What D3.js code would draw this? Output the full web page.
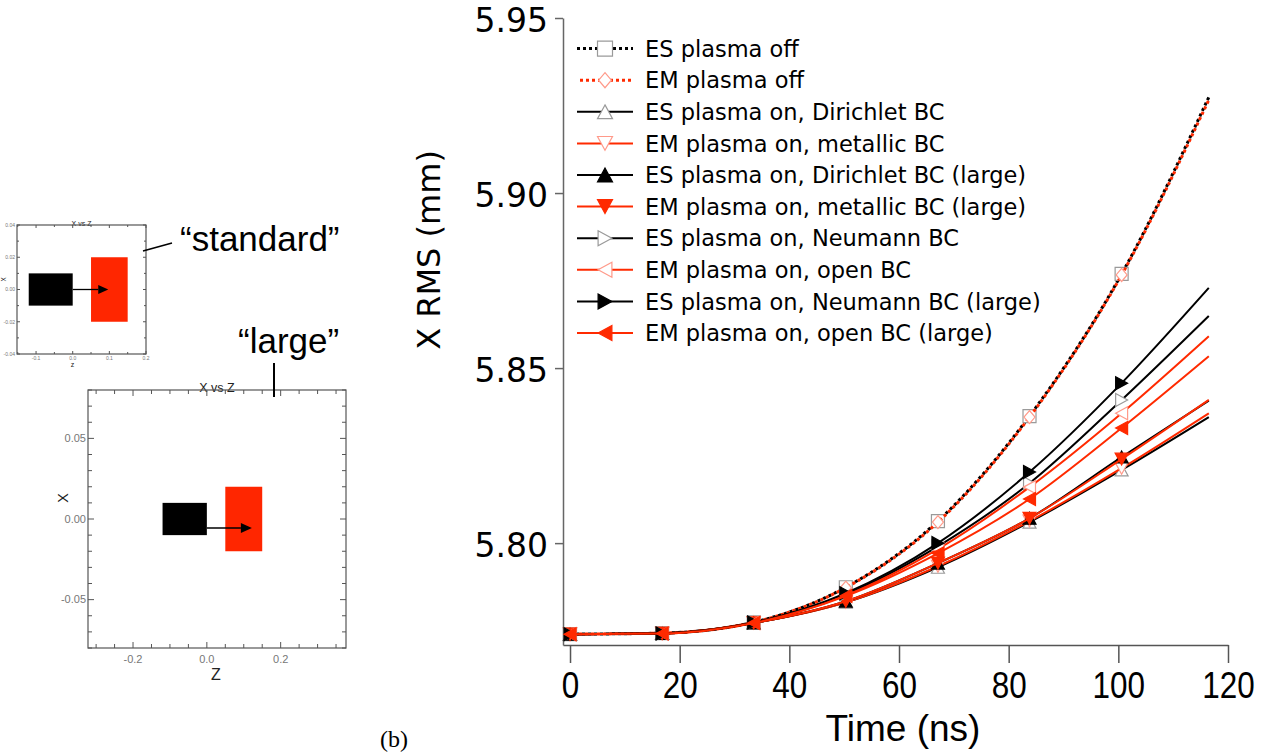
<!DOCTYPE html>
<html>
<head>
<meta charset="utf-8">
<script src="https://cdn.jsdelivr.net/npm/d3@7"></script>
<style>
  body { margin: 0; background: #fff; }
  svg { display: block; }
</style>
</head>
<body>
<svg id="fig" width="1276" height="756"></svg>
<script>
// ---- data: beam X RMS size vs time for the different field solvers ----
const timeNs = [0, 16.8, 33.5, 50.3, 67.1, 83.8, 100.6, 116.5];
const markerCount = 7; // markers on the first seven samples

const esOff            = [5.7740, 5.7743, 5.7774, 5.7874, 5.8063, 5.8363, 5.8769, 5.9274];
const emOff            = [5.7740, 5.7743, 5.7774, 5.7873, 5.8060, 5.8360, 5.8766, 5.9266];
const esDirichlet      = [5.7740, 5.7742, 5.7772, 5.7831, 5.7931, 5.8060, 5.8209, 5.8360];
const emMetallic       = [5.7740, 5.7742, 5.7772, 5.7831, 5.7934, 5.8063, 5.8214, 5.8371];
const esDirichletLarge = [5.7740, 5.7742, 5.7772, 5.7834, 5.7943, 5.8071, 5.8246, 5.8407];
const emMetallicLarge  = [5.7740, 5.7742, 5.7772, 5.7834, 5.7943, 5.8071, 5.8240, 5.8409];
const esNeumann        = [5.7740, 5.7742, 5.7773, 5.7854, 5.7991, 5.8171, 5.8409, 5.8649];
const emOpen           = [5.7740, 5.7742, 5.7773, 5.7851, 5.7983, 5.8160, 5.8371, 5.8591];
const esNeumannLarge   = [5.7740, 5.7742, 5.7773, 5.7857, 5.8000, 5.8203, 5.8457, 5.8729];
const emOpenLarge      = [5.7740, 5.7742, 5.7772, 5.7849, 5.7971, 5.8126, 5.8329, 5.8534];

const seriesNames = [
  "ES plasma off",
  "EM plasma off",
  "ES plasma on, Dirichlet BC",
  "EM plasma on, metallic BC",
  "ES plasma on, Dirichlet BC (large)",
  "EM plasma on, metallic BC (large)",
  "ES plasma on, Neumann BC",
  "EM plasma on, open BC",
  "ES plasma on, Neumann BC (large)",
  "EM plasma on, open BC (large)"
];

const xTicks = [0, 20, 40, 60, 80, 100, 120];
const yTicks = [5.80, 5.85, 5.90, 5.95];

// inset plots (beam/plasma geometry, X vs Z)
const insetTitle = "X vs Z";
const beamBlock   = { z: [-0.12, 0.0], x: [-0.01, 0.01] };
const plasmaBlock = { z: [0.05, 0.15], x: [-0.02, 0.02] };
const smallArrow = { z: [0.0, 0.097], x: 0.0 };
const largeArrow = { z: [0.0, 0.122], x: -0.0056 };
const smallZLabels = [-0.1, 0.0, 0.1, 0.2];
const smallXLabels = [-0.04, -0.02, 0.0, 0.02, 0.04];
const largeZLabels = [-0.2, 0.0, 0.2];
const largeXLabels = [-0.05, 0.0, 0.05];

// ---- styling ----
const RED = "#ff2a00";
const PINK = "#ff9a8a";
const GRAY = "#9a9a9a";
const svg = d3.select("#fig");
svg.append("rect").attr("width", 1276).attr("height", 756).attr("fill", "#fff");

const series = [
  { values: esOff,            color: "#000", dash: "3,3", off: 0, w: 3, shape: "square",  fill: "#fff", mstroke: GRAY },
  { values: emOff,            color: RED,    dash: "3,3", off: 3, w: 3, shape: "diamond", fill: "#fff", mstroke: PINK },
  { values: esDirichlet,      color: "#000", dash: null,  off: 0, w: 2, shape: "up",      fill: "#fff", mstroke: GRAY },
  { values: emMetallic,       color: RED,    dash: null,  off: 0, w: 2, shape: "down",    fill: "#fff", mstroke: PINK },
  { values: esDirichletLarge, color: "#000", dash: null,  off: 0, w: 2, shape: "up",      fill: "#000", mstroke: "#000" },
  { values: emMetallicLarge,  color: RED,    dash: null,  off: 0, w: 2, shape: "down",    fill: RED,    mstroke: RED },
  { values: esNeumann,        color: "#000", dash: null,  off: 0, w: 2, shape: "right",   fill: "#fff", mstroke: GRAY },
  { values: emOpen,           color: RED,    dash: null,  off: 0, w: 2, shape: "left",    fill: "#fff", mstroke: PINK },
  { values: esNeumannLarge,   color: "#000", dash: null,  off: 0, w: 2, shape: "right",   fill: "#000", mstroke: "#000" },
  { values: emOpenLarge,      color: RED,    dash: null,  off: 0, w: 2, shape: "left",    fill: RED,    mstroke: RED }
].map((s, i) => ({ ...s, name: seriesNames[i] }));

function shapePath(shape, s) {
  const h = s / 2, t = s * 0.46;
  switch (shape) {
    case "square":  return `M${-h},${-h}H${h}V${h}H${-h}Z`;
    case "diamond": return `M0,${-h}L${h * 0.85},0L0,${h}L${-h * 0.85},0Z`;
    case "up":      return `M0,${-t}L${h},${t}L${-h},${t}Z`;
    case "down":    return `M0,${t}L${h},${-t}L${-h},${-t}Z`;
    case "right":   return `M${t},0L${-t},${h}L${-t},${-h}Z`;
    case "left":    return `M${-t},0L${t},${h}L${t},${-h}Z`;
  }
}

// ---- main chart ----
const x = d3.scaleLinear().domain([-1.28, 120]).range([563, 1228]);
const y = d3.scaleLinear().domain([5.7709, 5.95]).range([645, 18]);

const xAxis = svg.append("g")
  .attr("transform", "translate(0,645)")
  .call(d3.axisBottom(x).tickValues(xTicks).tickSize(18).tickSizeOuter(0).tickPadding(9).tickFormat(d3.format("d")));
xAxis.select(".domain").attr("stroke", "#555").attr("stroke-width", 1.5);
xAxis.selectAll(".tick line").attr("stroke", "#555").attr("stroke-width", 1.5);
xAxis.selectAll(".tick text")
  .attr("font-family", "'Liberation Sans', Arial, sans-serif")
  .attr("font-size", 37).attr("fill", "#000")
  .attr("transform", "scale(0.85,1)");

const yAxis = svg.append("g")
  .attr("transform", "translate(563,0)")
  .call(d3.axisLeft(y).tickValues(yTicks).tickSize(8).tickSizeOuter(0).tickPadding(7).tickFormat(d3.format(".2f")));
yAxis.select(".domain").attr("stroke", "#666").attr("stroke-width", 1.5);
yAxis.selectAll(".tick line").attr("stroke", "#666").attr("stroke-width", 1.5);
yAxis.selectAll(".tick text")
  .attr("font-family", "'DejaVu Sans', sans-serif")
  .attr("font-size", 33).attr("fill", "#000")
  .attr("dy", "0.4em");

svg.append("text")
  .attr("x", 903).attr("y", 741)
  .attr("text-anchor", "middle")
  .attr("font-family", "'Liberation Sans', Arial, sans-serif")
  .attr("font-size", 37)
  .text("Time (ns)");

svg.append("text")
  .attr("transform", "translate(440,250) rotate(-90)")
  .attr("text-anchor", "middle")
  .attr("font-family", "'DejaVu Sans', sans-serif")
  .attr("font-size", 32)
  .text("X RMS (mm)");

const line = d3.line()
  .x(d => x(d.t))
  .y(d => y(d.v))
  .curve(d3.curveMonotoneX);

const plot = svg.append("g");
series.forEach(s => {
  const pts = timeNs.map((t, i) => ({ t, v: s.values[i] }));
  plot.append("path")
    .attr("d", line(pts))
    .attr("fill", "none")
    .attr("stroke", s.color)
    .attr("stroke-width", s.w)
    .attr("stroke-dasharray", s.dash)
    .attr("stroke-dashoffset", s.off);
  plot.selectAll(null)
    .data(pts.slice(0, markerCount))
    .join("path")
    .attr("transform", d => `translate(${x(d.t)},${y(d.v)})`)
    .attr("d", shapePath(s.shape, 13))
    .attr("fill", s.fill)
    .attr("stroke", s.mstroke)
    .attr("stroke-width", 1.2);
});

// legend
const legend = svg.append("g");
series.forEach((s, i) => {
  const ly = 48.6 + i * 31.6;
  legend.append("line")
    .attr("x1", 577).attr("x2", 633).attr("y1", ly).attr("y2", ly)
    .attr("stroke", s.color).attr("stroke-width", s.w)
    .attr("stroke-dasharray", s.dash).attr("stroke-dashoffset", s.off);
  legend.append("path")
    .attr("transform", `translate(605,${ly})`)
    .attr("d", shapePath(s.shape, 15))
    .attr("fill", s.fill).attr("stroke", s.mstroke).attr("stroke-width", 1.2);
  legend.append("text")
    .attr("x", 645).attr("y", ly).attr("dy", "0.36em")
    .attr("font-family", "'DejaVu Sans', sans-serif")
    .attr("font-size", 22.5)
    .text(s.name);
});

// ---- geometry insets ----
const fmt = p => v => d3.format(p)(v).replace("\u2212", "-");

function steps(lo, hi, step) {
  const out = [];
  for (let k = Math.ceil(lo / step - 1e-9); k * step <= hi + 1e-9; k++) out.push(k * step);
  return out;
}

function drawInset(o) {
  const g = svg.append("g");
  const zs = d3.scaleLinear().domain(o.zDomain).range([o.left, o.right]);
  const xs = d3.scaleLinear().domain(o.xDomain).range([o.bottom, o.top]);

  g.append("text")
    .attr("x", (o.left + o.right) / 2).attr("y", o.titleY)
    .attr("text-anchor", "middle")
    .attr("font-family", "'Liberation Sans', Arial, sans-serif")
    .attr("font-size", o.titleSize).attr("fill", "#222")
    .text(insetTitle);

  g.append("rect")
    .attr("x", zs(beamBlock.z[0])).attr("y", xs(beamBlock.x[1]))
    .attr("width", zs(beamBlock.z[1]) - zs(beamBlock.z[0]))
    .attr("height", xs(beamBlock.x[0]) - xs(beamBlock.x[1]))
    .attr("fill", "#000");
  g.append("rect")
    .attr("x", zs(plasmaBlock.z[0])).attr("y", xs(plasmaBlock.x[1]))
    .attr("width", zs(plasmaBlock.z[1]) - zs(plasmaBlock.z[0]))
    .attr("height", xs(plasmaBlock.x[0]) - xs(plasmaBlock.x[1]))
    .attr("fill", "#ff2600");

  const ax0 = zs(o.arrow.z[0]), ax1 = zs(o.arrow.z[1]), ay = xs(o.arrow.x);
  g.append("line")
    .attr("x1", ax0).attr("x2", ax1 - o.head).attr("y1", ay).attr("y2", ay)
    .attr("stroke", "#000").attr("stroke-width", o.arrowW);
  g.append("path")
    .attr("d", `M${ax1},${ay}L${ax1 - o.head},${ay - o.head * 0.45}L${ax1 - o.head},${ay + o.head * 0.45}Z`)
    .attr("fill", "#000");

  g.append("rect")
    .attr("x", o.left).attr("y", o.top)
    .attr("width", o.right - o.left).attr("height", o.bottom - o.top)
    .attr("fill", "none").attr("stroke", "#555").attr("stroke-width", 1.2);

  const isMajor = (v, step) => Math.abs(v / step - Math.round(v / step)) < 1e-6;
  steps(o.zDomain[0], o.zDomain[1], o.zMinor).forEach(v => {
    const px = zs(v), len = isMajor(v, o.zMajor) ? o.tickMajor : o.tickMinor;
    g.append("line").attr("x1", px).attr("x2", px).attr("y1", o.bottom).attr("y2", o.bottom - len)
      .attr("stroke", "#555").attr("stroke-width", 1);
    g.append("line").attr("x1", px).attr("x2", px).attr("y1", o.top).attr("y2", o.top + len)
      .attr("stroke", "#555").attr("stroke-width", 1);
  });
  steps(o.xDomain[0], o.xDomain[1], o.xMinor).forEach(v => {
    const py = xs(v), len = isMajor(v, o.xMajor) ? o.tickMajor : o.tickMinor;
    g.append("line").attr("x1", o.left).attr("x2", o.left + len).attr("y1", py).attr("y2", py)
      .attr("stroke", "#555").attr("stroke-width", 1);
    g.append("line").attr("x1", o.right).attr("x2", o.right - len).attr("y1", py).attr("y2", py)
      .attr("stroke", "#555").attr("stroke-width", 1);
  });

  g.selectAll(null).data(o.zLabels).join("text")
    .attr("x", d => zs(d)).attr("y", o.bottom + o.zLabelGap)
    .attr("text-anchor", "middle")
    .attr("font-family", "'Liberation Sans', Arial, sans-serif")
    .attr("font-size", o.labelSize).attr("fill", "#777")
    .text(fmt(".1f"));
  g.selectAll(null).data(o.xLabels).join("text")
    .attr("x", o.left - 2).attr("y", d => xs(d)).attr("dy", "0.35em")
    .attr("text-anchor", "end")
    .attr("font-family", "'Liberation Sans', Arial, sans-serif")
    .attr("font-size", o.labelSize).attr("fill", "#777")
    .text(fmt(".2f"));

  g.append("text")
    .attr("x", (o.left + o.right) / 2 + o.zNameDx).attr("y", o.zNameY)
    .attr("text-anchor", "middle")
    .attr("font-family", "'Liberation Sans', Arial, sans-serif")
    .attr("font-size", o.nameSize).attr("fill", "#222")
    .text(o.zName);
  g.append("text")
    .attr("transform", `translate(${o.xNameX},${(o.top + o.bottom) / 2 + o.xNameDy}) rotate(-90)`)
    .attr("text-anchor", "middle").attr("dy", "0.35em")
    .attr("font-family", "'Liberation Sans', Arial, sans-serif")
    .attr("font-size", o.nameSize * 0.9).attr("fill", "#222")
    .text("X");
}

// "standard" domain
drawInset({
  left: 17, right: 146, top: 225, bottom: 354,
  zDomain: [-0.152, 0.2], xDomain: [-0.04, 0.04],
  zMinor: 0.05, zMajor: 0.1, xMinor: 0.01, xMajor: 0.02,
  tickMajor: 3, tickMinor: 2,
  zLabels: smallZLabels, xLabels: smallXLabels,
  labelSize: 5, zLabelGap: 6,
  titleY: 225.5, titleSize: 7,
  zName: "z", zNameY: 367, zNameDx: -9, nameSize: 7,
  xNameX: 4, xNameDy: -10,
  arrow: smallArrow, head: 10, arrowW: 1.3
});

// "large" domain
drawInset({
  left: 88, right: 346, top: 390, bottom: 648,
  zDomain: [-0.322, 0.377], xDomain: [-0.08, 0.08],
  zMinor: 0.05, zMajor: 0.2, xMinor: 0.01, xMajor: 0.05,
  tickMajor: 6, tickMinor: 4,
  zLabels: largeZLabels, xLabels: largeXLabels,
  labelSize: 11, zLabelGap: 15,
  titleY: 391.5, titleSize: 12.5,
  zName: "Z", zNameY: 680, zNameDx: -1, nameSize: 16,
  xNameX: 63, xNameDy: -21,
  arrow: largeArrow, head: 11, arrowW: 1.4
});

// callout labels
svg.append("line").attr("x1", 143).attr("y1", 251).attr("x2", 172).attr("y2", 243)
  .attr("stroke", "#000").attr("stroke-width", 1.5);
svg.append("text").attr("x", 180).attr("y", 251)
  .attr("font-family", "'Liberation Sans', Arial, sans-serif").attr("font-size", 35)
  .text("\u201cstandard\u201d");
svg.append("line").attr("x1", 274).attr("y1", 363).attr("x2", 274).attr("y2", 397)
  .attr("stroke", "#000").attr("stroke-width", 2);
svg.append("text").attr("x", 238).attr("y", 353)
  .attr("font-family", "'Liberation Sans', Arial, sans-serif").attr("font-size", 35)
  .text("\u201clarge\u201d");

svg.append("text").attr("x", 380).attr("y", 747)
  .attr("font-family", "'Liberation Serif', 'Times New Roman', serif").attr("font-size", 24)
  .text("(b)");
</script>
</body>
</html>
